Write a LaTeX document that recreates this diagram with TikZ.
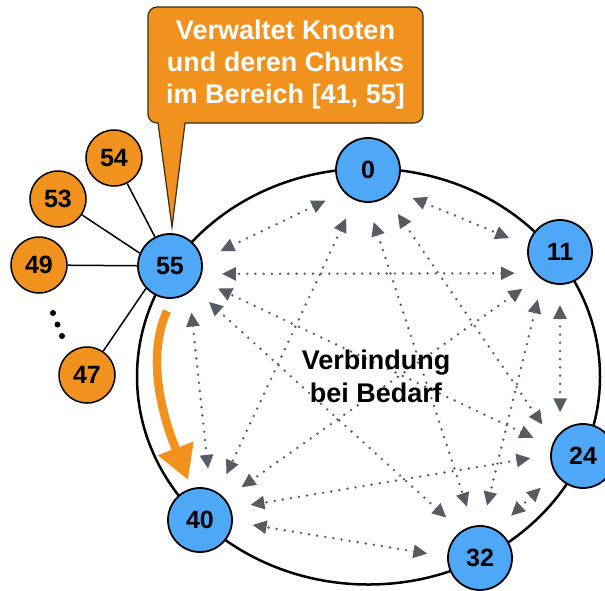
\documentclass[tikz,border=0pt]{standalone}
\usepackage{fontspec}
\setmainfont{Liberation Sans}
\usetikzlibrary{arrows.meta}
\definecolor{nodeblue}{HTML}{4EA8F7}
\definecolor{nodeorange}{HTML}{F1921F}
\definecolor{arrowgray}{HTML}{575C63}
\definecolor{calloutborder}{HTML}{3A2C18}
\begin{document}
\begin{tikzpicture}[x=1pt,y=-1pt,
  bluenode/.style={circle,draw=black,line width=1.8pt,fill=nodeblue,minimum size=64pt,inner sep=0pt,
    font=\fontsize{25}{28}\selectfont\bfseries},
  orangenode/.style={circle,draw=black,line width=1.5pt,fill=nodeorange,minimum size=56pt,inner sep=0pt,
    font=\fontsize{25}{28}\selectfont\bfseries},
  link/.style={arrowgray,line width=2.7pt,dash pattern=on 0pt off 8.2pt,line cap=round,
    arrows={Triangle[length=14pt,width=13pt]-Triangle[length=14pt,width=13pt]},
    shorten <=20pt,shorten >=20pt},
  spoke/.style={draw=black,line width=1.5pt},
  ring/.style={draw=black,line width=2.5pt},
  bigarrow/.style={draw=nodeorange,line width=8.5pt,arrows={-Triangle[length=34pt,width=36pt]}},
  callout/.style={fill=nodeorange,draw=calloutborder,line width=1.2pt},
  callouttext/.style={text=white,align=center,font=\fontsize{27}{32}\selectfont\bfseries},
  midtext/.style={text=black,align=center,font=\fontsize{27}{33}\selectfont\bfseries}
]
\useasboundingbox (0,0) rectangle (605,590);

% ring
\draw[ring] (368.5,376.5) ellipse [x radius=231.5pt, y radius=208pt];

% nodes on the ring
\node[bluenode] (n0)  at (368,170) {0};
\node[bluenode] (n11) at (560,252) {11};
\node[bluenode] (n24) at (583,456) {24};
\node[bluenode] (n32) at (480,558) {32};
\node[bluenode] (n40) at (200,520) {40};
\node[bluenode] (n55) at (170,266) {55};

% on-demand connections
\draw[link] (n0.-38)  -- (n11.169);
\draw[link] (n0.-56)  -- (n24.153);
\draw[link] (n0.-91)  -- (n32.102);
\draw[link] (n0.-114) -- (n40.57);
\draw[link] (n0.-138) -- (n55.11);
\draw[link] (n11.-90) -- (n24.134);
\draw[link] (n11.-122) -- (n32.86);
\draw[link] (n11.-130) -- (n40.40);
\draw[link] (n11.-140) -- (n55.-14);
\draw[link] (n24.-147) -- (n32.60);
\draw[link] (n24.178) -- (n40.21);
\draw[link] (n24.163) -- (n55.-25);
\draw[link] (n32.178) -- (n40.-3);
\draw[link] (n32.125) -- (n55.-43);
\draw[link] (n55.-54) -- (n40.72);

\node[midtext] (mid) at (376,376) {Verbindung\\bei Bedarf};

% orange curved arrow
\draw[bigarrow] (167,311) .. controls (140,370) and (176,449) .. (188,480);

% managed nodes
\node[orangenode] (o54) at (114,158) {54};
\node[orangenode] (o53) at (58,199) {53};
\node[orangenode] (o49) at (39,265) {49};
\node[orangenode] (o47) at (87,375) {47};
\draw[spoke] (o54) -- (n55);
\draw[spoke] (o53) -- (n55.157);
\draw[spoke] (o49) -- (n55);
\draw[spoke] (o47) -- (n55.-137);
\fill[black] (53,313) circle (3pt);
\fill[black] (57.5,324.5) circle (3pt);
\fill[black] (62,336) circle (3pt);

% callout
\draw[callout] (172,227) -- (158,123) [rounded corners=9pt] -- (148,123) -- (148,7) -- (423,7) -- (423,123) [sharp corners] -- (185,123) -- cycle;
\node[callouttext] (note) at (285.5,65) {Verwaltet Knoten\\und deren Chunks\\im Bereich [41, 55]};
\end{tikzpicture}
\end{document}
